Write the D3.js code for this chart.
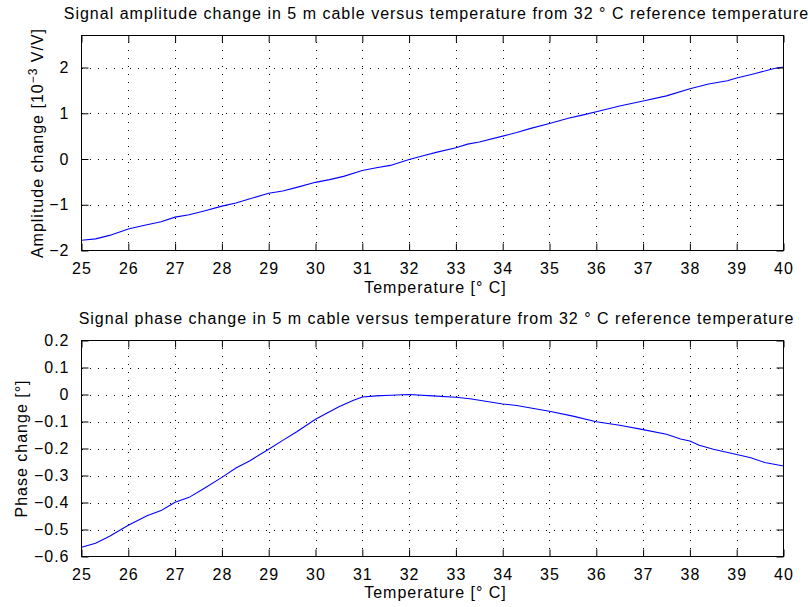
<!DOCTYPE html>
<html><head><meta charset="utf-8">
<script src="https://cdn.jsdelivr.net/npm/d3@7"></script>
<style>
html,body{margin:0;padding:0;background:#fff;}
text{font-family:"Liberation Sans",Arial,Helvetica,sans-serif;font-size:16px;letter-spacing:1px;fill:#000;}
</style></head><body>
<svg id="c" width="808" height="607"></svg>
<script>
// ---- data ----
const ampTemps = [25.0,25.3,25.6,26.0,26.3,26.7,27.0,27.3,27.6,28.0,28.3,28.6,29.0,29.3,29.6,30.0,30.3,30.6,31.0,31.3,31.6,32.0,32.3,32.6,33.0,33.25,33.5,34.0,34.3,34.6,35.0,35.4,35.7,36.0,36.5,37.0,37.5,38.0,38.4,38.8,39.0,39.4,39.8,40.0];
const ampValues = [-1.775,-1.745,-1.67,-1.53,-1.46,-1.37,-1.27,-1.22,-1.14,-1.03,-0.96,-0.87,-0.75,-0.70,-0.62,-0.51,-0.45,-0.38,-0.25,-0.19,-0.14,-0.01,0.07,0.15,0.245,0.325,0.37,0.50,0.58,0.67,0.775,0.89,0.96,1.035,1.16,1.27,1.38,1.535,1.64,1.71,1.77,1.87,1.98,2.01];
const phaseTemps = [25.0,25.3,25.6,26.0,26.4,26.7,27.0,27.3,27.6,28.0,28.3,28.6,29.0,29.3,29.6,30.0,30.5,30.8,31.0,31.3,31.6,32.0,32.5,33.0,33.3,33.6,34.0,34.3,34.6,35.0,35.5,36.0,36.5,37.0,37.5,37.8,38.0,38.2,38.5,39.0,39.3,39.6,40.0];
const phaseValues = [-0.566,-0.551,-0.525,-0.484,-0.449,-0.430,-0.399,-0.381,-0.350,-0.307,-0.272,-0.245,-0.203,-0.170,-0.138,-0.092,-0.045,-0.022,-0.009,-0.005,-0.003,0.0,-0.005,-0.010,-0.016,-0.024,-0.035,-0.041,-0.050,-0.062,-0.080,-0.101,-0.114,-0.130,-0.147,-0.165,-0.172,-0.188,-0.203,-0.222,-0.234,-0.252,-0.265];
const xTicks = [25,26,27,28,29,30,31,32,33,34,35,36,37,38,39,40];
const ampTicks = [-2,-1,0,1,2];
const ampTickLabels = ["\u22122","\u22121","0","1","2"];
const phaseTicks = [-0.6,-0.5,-0.4,-0.3,-0.2,-0.1,0,0.1,0.2];
const phaseTickLabels = ["\u22120.6","\u22120.5","\u22120.4","\u22120.3","\u22120.2","\u22120.1","0","0.1","0.2"];
const ampTitle = "Signal amplitude change in 5 m cable versus temperature from 32 \u00B0 C reference temperature";
const phaseTitle = "Signal phase change in 5 m cable versus temperature from 32 \u00B0 C reference temperature";
const xLabel = "Temperature [\u00B0 C]";

const svg = d3.select("#c");
const L = 81.5, R = 783.5;

function panel(cfg){
  const g = svg.append("g");
  const x = d3.scaleLinear().domain([25,40]).range([L,R]);
  const y = d3.scaleLinear().domain(cfg.ydom).range([cfg.bottom,cfg.top]);
  // grid
  const grid = g.append("g").attr("stroke","#000").attr("stroke-width",1).attr("stroke-dasharray","1,7").attr("shape-rendering","crispEdges");
  xTicks.slice(1,-1).forEach(t=>grid.append("line").attr("x1",Math.round(x(t))+0.5).attr("x2",Math.round(x(t))+0.5).attr("y1",cfg.bottom).attr("y2",cfg.top));
  cfg.ticks.forEach(t=>{ if(y(t)>cfg.top+1 && y(t)<cfg.bottom-1) grid.append("line").attr("y1",Math.round(y(t))+0.5).attr("y2",Math.round(y(t))+0.5).attr("x1",L).attr("x2",R);});
  // line
  const line = d3.line().x((d,i)=>x(cfg.xs[i])).y(d=>y(d));
  g.append("path").datum(cfg.ys).attr("d",line).attr("fill","none").attr("stroke","#0000ff").attr("stroke-width",1.1);
  // axes with inner ticks
  const tl = 7;
  const xb = d3.axisBottom(x).tickValues(xTicks).tickSize(-tl).tickPadding(tl+5).tickFormat(d3.format("d"));
  const xt = d3.axisTop(x).tickValues(xTicks).tickSize(-tl).tickFormat("");
  const yl = d3.axisLeft(y).tickValues(cfg.ticks).tickSize(-tl).tickPadding(tl+5).tickFormat((d,i)=>cfg.labels[i]);
  const yr = d3.axisRight(y).tickValues(cfg.ticks).tickSize(-tl).tickFormat("");
  [[xb,`translate(0,${cfg.bottom})`],[xt,`translate(0,${cfg.top})`],[yl,`translate(${L},0)`],[yr,`translate(${R},0)`]].forEach(([ax,tr])=>{
    const a = g.append("g").attr("transform",tr).call(ax);
    a.selectAll("path.domain").remove();
    a.selectAll("line").attr("stroke","#000");
    a.selectAll("text").attr("font-size",null).attr("font-family",null).attr("fill","#000");
  });
  g.append("rect").attr("x",L).attr("y",cfg.top).attr("width",R-L).attr("height",cfg.bottom-cfg.top).attr("fill","none").attr("stroke","#000").attr("stroke-width",1);
  // title & labels
  g.append("text").attr("x",(L+R)/2+4).attr("y",cfg.titleY).attr("text-anchor","middle").text(cfg.title);
  g.append("text").attr("x",(L+R)/2+3).attr("y",cfg.xlabelY).attr("text-anchor","middle").text(xLabel);
  const yt = g.append("text").attr("transform",`translate(${cfg.ylabelX},${(cfg.top+cfg.bottom)/2}) rotate(-90)`).attr("text-anchor","middle");
  cfg.ylabel(yt);
}

panel({xs:ampTemps, ys:ampValues, ydom:[-2,2.7], top:35.5, bottom:250.5, ticks:ampTicks, labels:ampTickLabels,
  title:ampTitle, titleY:19, xlabelY:293, ylabelX:42.5,
  ylabel:t=>{t.append("tspan").text("Amplitude change [10");
    t.append("tspan").attr("dy",-6).attr("font-size","12px").text("\u22123");
    t.append("tspan").attr("dy",6).text(" V/V]");}});
panel({xs:phaseTemps, ys:phaseValues, ydom:[-0.6,0.2], top:340.5, bottom:556.5, ticks:phaseTicks, labels:phaseTickLabels,
  title:phaseTitle, titleY:324, xlabelY:598, ylabelX:26.5,
  ylabel:t=>t.text("Phase change [\u00B0]")});
</script></body></html>
